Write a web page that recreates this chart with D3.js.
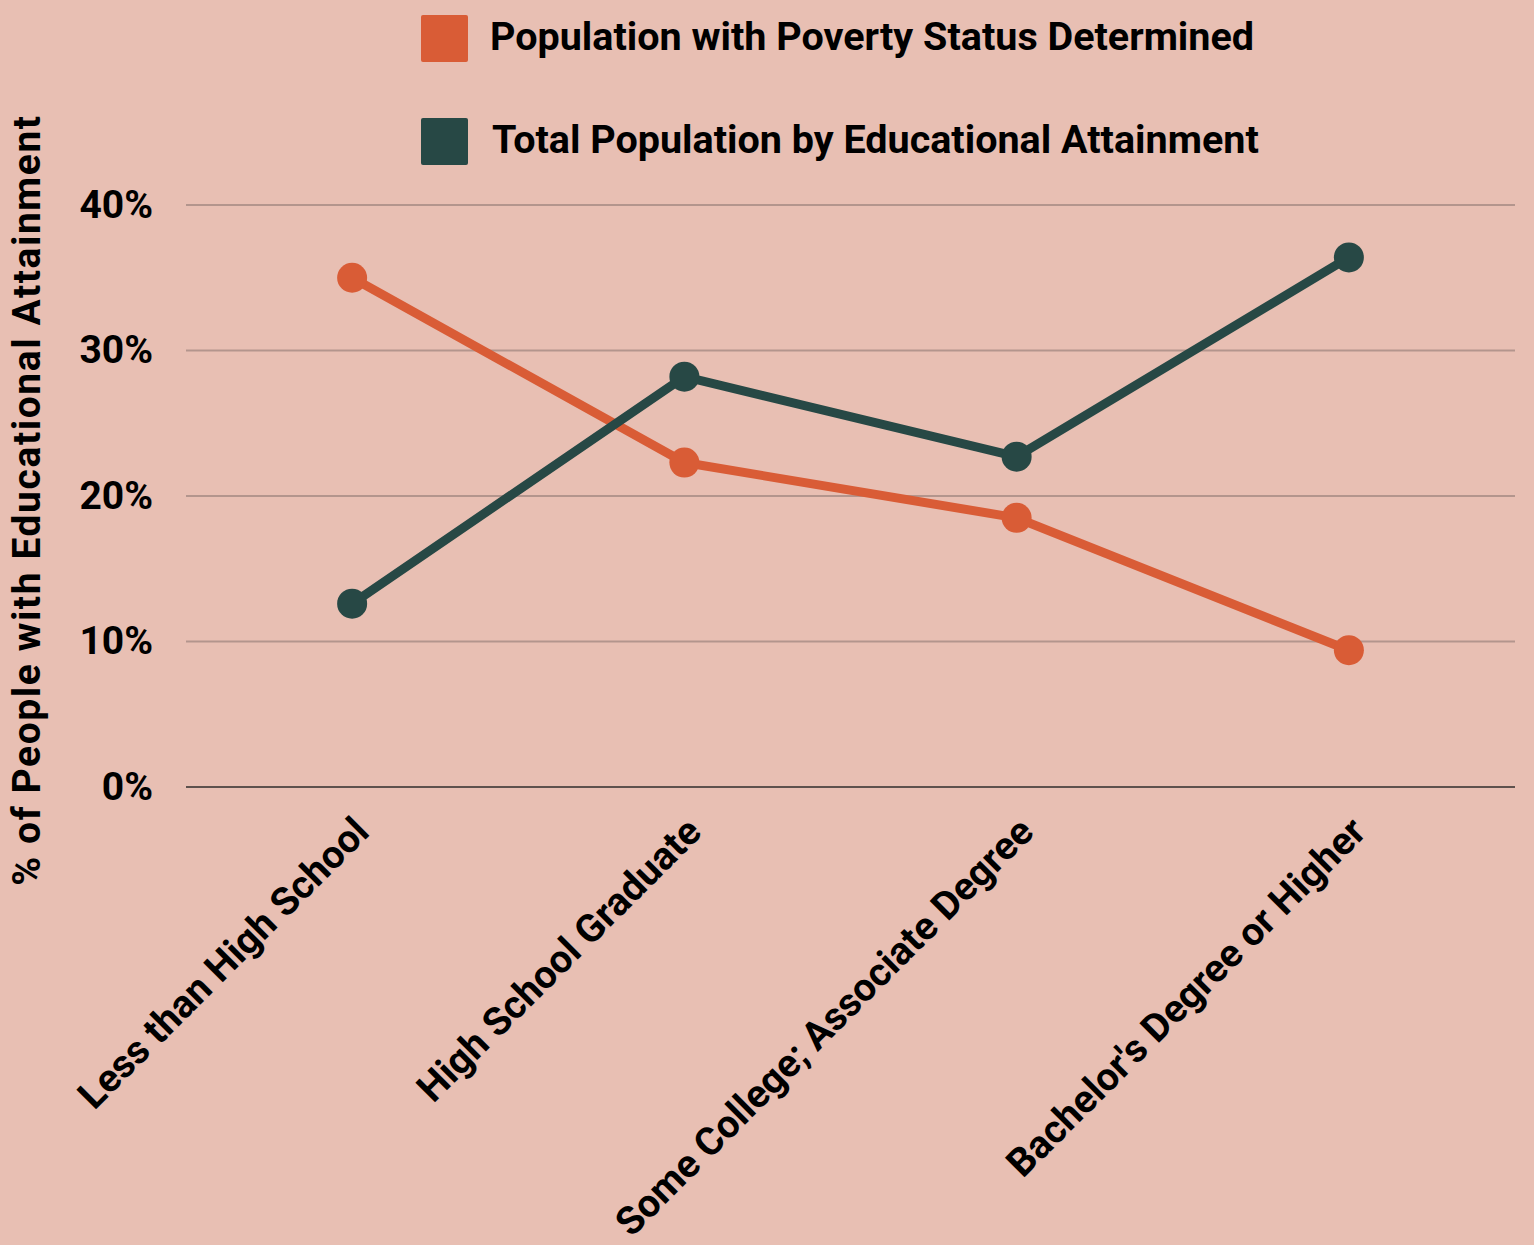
<!DOCTYPE html>
<html>
<head>
  <meta charset="utf-8">
  <title>Poverty by Educational Attainment</title>
  <script type="text/javascript" src="https://cdn.jsdelivr.net/npm/d3@7"></script>
  <style type="text/css">
    body { margin: 0; background: #e8bfb3; }
    svg { display: block; font-family: Roboto, sans-serif; font-weight: 700; }
  </style>
</head>
<body>
  <div id="chart"></div>
  <script type="text/javascript">
    // Data
    const categories = ["Less than High School", "High School Graduate", "Some College; Associate Degree", "Bachelor's Degree or Higher"];
    const seriesNames = ["Population with Poverty Status Determined", "Total Population by Educational Attainment"];
    const povertyValues = [35.0, 22.3, 18.5, 9.4];
    const totalValues = [12.6, 28.2, 22.7, 36.4];
    const yTicks = [0, 10, 20, 30, 40];

    const w = 1534;
    const h = 1245;
    const margin = { top: 205, right: 19, bottom: 458, left: 186 };
    const colors = ["#d95c36", "#274845"];

    const svg = d3.select("#chart")
      .append("svg")
      .attr("width", w)
      .attr("height", h);

    svg.append("rect").attr("width", w).attr("height", h).attr("fill", "#e8bfb3");

    const x = d3.scaleBand()
      .domain(categories)
      .range([margin.left, w - margin.right]);

    const y = d3.scaleLinear()
      .domain([0, 40])
      .range([h - margin.bottom, margin.top]);

    // gridlines
    svg.append("g")
      .selectAll("line")
      .data(yTicks)
      .enter()
      .append("line")
      .attr("x1", margin.left)
      .attr("x2", w - margin.right)
      .attr("y1", d => y(d))
      .attr("y2", d => y(d))
      .attr("stroke", d => d === 0 ? "#5e514d" : "#b3958d")
      .attr("stroke-width", 2);

    // y axis labels
    const yAxis = d3.axisLeft(y).tickValues(yTicks).tickFormat(d => d + "%").tickSize(0).tickPadding(33);
    svg.append("g")
      .attr("transform", `translate(${margin.left},0)`)
      .call(yAxis)
      .call(g => g.select(".domain").remove())
      .selectAll("text")
      .attr("font-family", "Roboto, sans-serif")
      .attr("font-weight", 700)
      .attr("font-size", 39)
      .attr("fill", "#000");

    // x axis labels, rotated
    const xAxis = d3.axisBottom(x).tickSize(0).tickPadding(0);
    svg.append("g")
      .attr("transform", `translate(0,${h - margin.bottom})`)
      .call(xAxis)
      .call(g => g.select(".domain").remove())
      .selectAll("text")
      .attr("font-family", "Roboto, sans-serif")
      .attr("font-weight", 700)
      .attr("font-size", 39)
      .attr("fill", "#000")
      .attr("text-anchor", "end")
      .attr("dy", 0)
      .attr("y", 0)
      .attr("transform", "translate(19,47) rotate(-45)");

    // y axis title
    svg.append("text")
      .attr("transform", `translate(40,500) rotate(-90)`)
      .attr("text-anchor", "middle")
      .attr("font-size", 39)
      .attr("letter-spacing", 1.6)
      .attr("fill", "#000")
      .text("% of People with Educational Attainment");

    // lines and points
    const series = [povertyValues, totalValues];
    const line = d3.line()
      .x((d, i) => x(categories[i]) + x.bandwidth() / 2)
      .y(d => y(d));

    series.forEach(function(vals, s) {
      svg.append("path")
        .datum(vals)
        .attr("d", line)
        .attr("fill", "none")
        .attr("stroke", colors[s])
        .attr("stroke-width", 9)
        .attr("stroke-linejoin", "round");

      svg.append("g")
        .selectAll("circle")
        .data(vals)
        .enter()
        .append("circle")
        .attr("cx", (d, i) => x(categories[i]) + x.bandwidth() / 2)
        .attr("cy", d => y(d))
        .attr("r", 15)
        .attr("fill", colors[s]);
    });

    // legend
    const legend = svg.append("g")
      .selectAll("g")
      .data(seriesNames)
      .enter()
      .append("g")
      .attr("transform", (d, i) => `translate(421,${15 + i * 103})`);

    legend.append("rect")
      .attr("width", 47)
      .attr("height", 47)
      .attr("rx", 2)
      .attr("fill", (d, i) => colors[i]);

    legend.append("text")
      .attr("x", (d, i) => i === 0 ? 69 : 71)
      .attr("y", 35)
      .attr("font-size", 39.5)
      .attr("fill", "#000")
      .text(d => d);
  </script>
</body>
</html>
